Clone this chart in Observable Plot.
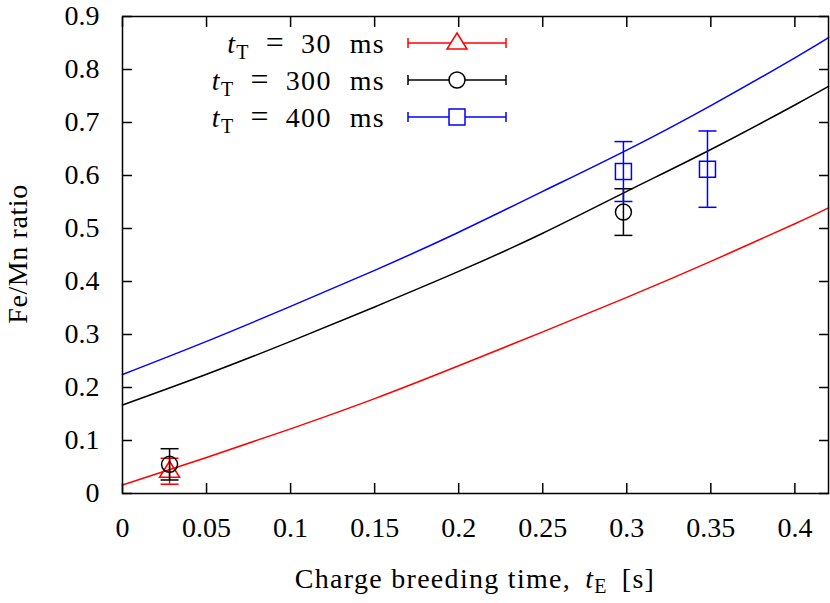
<!DOCTYPE html>
<html><head><meta charset="utf-8">
<script src="https://cdn.jsdelivr.net/npm/d3@7"></script>
<script src="https://cdn.jsdelivr.net/npm/@observablehq/plot@0.6"></script>
<style>body{margin:0;background:#fff} #chart{width:830px;height:603px}</style>
</head><body><div id="chart"></div>
<script>
// Model curves
const curveX   = [0, 0.05, 0.1, 0.15, 0.2, 0.25, 0.3, 0.35, 0.4, 0.42];
const curve30  = [0.016, 0.068, 0.122, 0.179, 0.241, 0.305, 0.370, 0.438, 0.509, 0.539];
const curve300 = [0.167, 0.225, 0.287, 0.352, 0.419, 0.491, 0.570, 0.649, 0.733, 0.768];
const curve400 = [0.2245, 0.287, 0.353, 0.421, 0.493, 0.570, 0.648, 0.732, 0.822, 0.860];

// Measured points with error bars
const pts30X = [0.028],        pts30Y = [0.042],         pts30Err = [0.0245];
const pts300X = [0.028, 0.298], pts300Y = [0.055, 0.531], pts300Err = [0.0295, 0.044];
const pts400X = [0.298, 0.348], pts400Y = [0.6075, 0.612], pts400Err = [0.0565, 0.072];

const seriesValues = ["30", "300", "400"];
const seriesUnit = "ms";
const seriesColors = ["#ff0000", "#000000", "#0000ff"];

const xTicks = [0, 0.05, 0.1, 0.15, 0.2, 0.25, 0.3, 0.35, 0.4];
const xTickLabels = ["0", "0.05", "0.1", "0.15", "0.2", "0.25", "0.3", "0.35", "0.4"];
const yTicks = [0, 0.1, 0.2, 0.3, 0.4, 0.5, 0.6, 0.7, 0.8, 0.9];
const yTickLabels = ["0", "0.1", "0.2", "0.3", "0.4", "0.5", "0.6", "0.7", "0.8", "0.9"];

const FONT = "Liberation Serif, Times New Roman, serif";

function rOf(size) { return Math.sqrt(size / Math.PI); }
const capSymbol = { draw(ctx, size) { const r = rOf(size); ctx.moveTo(-r, 0); ctx.lineTo(r, 0); } };
const triSymbol = { draw(ctx, size) { const r = rOf(size); ctx.moveTo(0, -r); ctx.lineTo(r, r * 0.6); ctx.lineTo(-r, r * 0.6); ctx.closePath(); } };
const sqSymbol  = { draw(ctx, size) { const r = rOf(size); ctx.rect(-r, -r, 2 * r, 2 * r); } };
const circSymbol = { draw(ctx, size) { const r = rOf(size); ctx.moveTo(r, 0); ctx.arc(0, 0, r, 0, 2 * Math.PI); } };

const curves = [curve30, curve300, curve400].map(ys => curveX.map((x, i) => ({x, y: ys[i]})));
const pts = [[pts30X, pts30Y, pts30Err], [pts300X, pts300Y, pts300Err], [pts400X, pts400Y, pts400Err]]
  .map(([xs, ys, es]) => xs.map((x, i) => ({x, y: ys[i], lo: ys[i] - es[i], hi: ys[i] + es[i]})));
const markerSymbols = [triSymbol, circSymbol, sqSymbol];
const markerR = [10, 8, 8];

const marks = [];
// ticks (inward, mirrored)
marks.push(Plot.axisX({ticks: xTicks, tickSize: -10, tickFormat: () => "", label: null, strokeWidth: 1.5}));
marks.push(Plot.axisX({anchor: "top", ticks: xTicks, tickSize: -10, tickFormat: () => "", label: null, strokeWidth: 1.5}));
marks.push(Plot.axisY({ticks: yTicks, tickSize: -10, tickFormat: () => "", label: null, strokeWidth: 1.5}));
marks.push(Plot.axisY({anchor: "right", ticks: yTicks, tickSize: -10, tickFormat: () => "", label: null, strokeWidth: 1.5}));
// tick labels
marks.push(Plot.axisX({ticks: xTicks, tickSize: 0, tickPadding: 24, tickFormat: d => xTickLabels[xTicks.indexOf(d)], label: null, fontSize: 28, fontFamily: FONT}));
marks.push(Plot.axisY({ticks: yTicks, tickSize: 0, tickPadding: 23, tickFormat: d => yTickLabels[yTicks.indexOf(d)], label: null, fontSize: 28, fontFamily: FONT}));

curves.forEach((c, k) => marks.push(Plot.line(c, {x: "x", y: "y", stroke: seriesColors[k], strokeWidth: 1.5, curve: "natural"})));
pts.forEach((p, k) => {
  marks.push(Plot.ruleX(p, {x: "x", y1: "lo", y2: "hi", stroke: seriesColors[k], strokeWidth: 1.5}));
  marks.push(Plot.dot(p, {x: "x", y: "lo", symbol: capSymbol, r: 9, stroke: seriesColors[k], fill: "none", strokeWidth: 1.5}));
  marks.push(Plot.dot(p, {x: "x", y: "hi", symbol: capSymbol, r: 9, stroke: seriesColors[k], fill: "none", strokeWidth: 1.5}));
  marks.push(Plot.dot(p, {x: "x", y: "y", symbol: markerSymbols[k], r: markerR[k], stroke: seriesColors[k], fill: "none", strokeWidth: 1.5}));
});
marks.push(Plot.frame({stroke: "black", strokeWidth: 1.5}));

const svg = Plot.plot({
  width: 830, height: 603,
  marginLeft: 122, marginRight: 2, marginTop: 16, marginBottom: 110,
  x: {domain: [0, 0.42]},
  y: {domain: [0, 0.9]},
  style: {fontFamily: FONT, fontSize: "28px", background: "#fff", color: "#000"},
  marks
});
document.getElementById("chart").appendChild(svg);

const s = d3.select(svg);
// y label
s.append("text")
  .attr("transform", "translate(27,254) rotate(-90)")
  .attr("text-anchor", "middle")
  .attr("font-family", FONT).attr("font-size", 28).attr("letter-spacing", 0.6)
  .text("Fe/Mn ratio");
// x label
const xl = s.append("text")
  .attr("x", 475).attr("y", 588)
  .attr("text-anchor", "middle")
  .attr("font-family", FONT).attr("font-size", 28).attr("letter-spacing", 1.3);
xl.append("tspan").text("Charge breeding time,");
xl.append("tspan").attr("dx", 14).attr("font-style", "italic").text("t");
xl.append("tspan").attr("font-size", 20).attr("dy", 5).text("E");
xl.append("tspan").attr("dy", -5).attr("dx", 14).text("[s]");

// legend
const rowsY = [43, 80, 117];
seriesValues.forEach((val, k) => {
  const g = s.append("g").attr("transform", `translate(0,${rowsY[k]})`);
  const t = g.append("text").attr("x", 385).attr("y", 0).attr("dy", "0.35em")
    .attr("text-anchor", "end").attr("font-family", FONT).attr("font-size", 28).attr("letter-spacing", 1.3);
  t.append("tspan").attr("font-style", "italic").text("t");
  t.append("tspan").attr("font-size", 20).attr("dy", 6).text("T");
  t.append("tspan").attr("dy", -6).attr("dx", 16).attr("font-size", 32).text("=");
  t.append("tspan").attr("dx", 16).text(val);
  t.append("tspan").attr("dx", 18).text(seriesUnit);
  const c = seriesColors[k];
  g.append("line").attr("x1", 408).attr("x2", 506).attr("y1", 0).attr("y2", 0).attr("stroke", c).attr("stroke-width", 1.5);
  g.append("line").attr("x1", 408).attr("x2", 408).attr("y1", -5).attr("y2", 5).attr("stroke", c).attr("stroke-width", 1.5);
  g.append("line").attr("x1", 506).attr("x2", 506).attr("y1", -5).attr("y2", 5).attr("stroke", c).attr("stroke-width", 1.5);
  const sym = d3.symbol(markerSymbols[k], markerR[k] * markerR[k] * Math.PI);
  g.append("path").attr("transform", "translate(457,0)").attr("d", sym())
    .attr("fill", "#fff").attr("stroke", c).attr("stroke-width", 1.5);
});
</script>
</body></html>
